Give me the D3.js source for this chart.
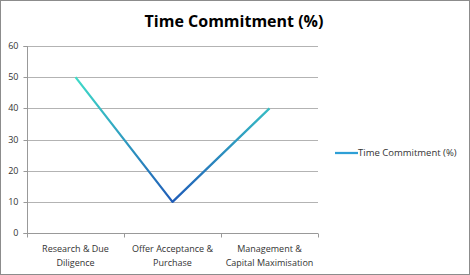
<!DOCTYPE html>
<html>
<head>
<meta charset="utf-8">
<script src="https://cdn.jsdelivr.net/npm/d3@7"></script>
<style>
  body { margin: 0; background: #fff; }
  svg { display: block; font-family: "Open Sans", sans-serif; }
</style>
</head>
<body>
<div id="chart"></div>
<script>
var categories = [['Research & Due', 'Diligence'], ['Offer Acceptance &', 'Purchase'], ['Management &', 'Capital Maximisation']];
var values = [50, 10, 40];
var yTicks = [0, 10, 20, 30, 40, 50, 60];
var seriesName = 'Time Commitment (%)';

var width = 470;
var height = 275;
var plotLeft = 27;
var plotRight = 318;
var plotTop = 46;
var plotBot = 233;

var svg = d3.select('#chart').append('svg')
    .attr('width', width)
    .attr('height', height);

svg.append('rect')
    .attr('x', 0.5).attr('y', 0.5)
    .attr('width', width - 1).attr('height', height - 1)
    .attr('fill', '#fff')
    .attr('stroke', '#8c8c8c');

var x = d3.scaleBand()
    .domain(d3.range(categories.length))
    .range([plotLeft, plotRight]);

var y = d3.scaleLinear()
    .domain([0, 60])
    .range([plotBot, plotTop]);

// gridlines
svg.append('g')
    .selectAll('line')
    .data(yTicks.filter(d => d > 0))
    .join('line')
    .attr('x1', plotLeft).attr('x2', plotRight)
    .attr('y1', d => Math.round(y(d)) + 0.5)
    .attr('y2', d => Math.round(y(d)) + 0.5)
    .attr('stroke', '#b3b3b3');

// y axis
var yAxis = svg.append('g')
    .attr('transform', `translate(${plotLeft + 0.5},0)`)
    .call(d3.axisLeft(y).tickValues(yTicks).tickSize(4).tickPadding(5));
yAxis.select('.domain').attr('stroke', '#999').attr('d', `M-4,${plotTop + 0.5}H0V${plotBot + 0.5}H-4`);
yAxis.selectAll('.tick line').attr('stroke', '#999');
yAxis.selectAll('.tick').attr('transform', d => `translate(0,${Math.round(y(d)) + 0.5})`);
yAxis.selectAll('text')
    .attr('fill', '#333')
    .style('font-size', '9px')
    .style('font-family', '"Open Sans", sans-serif');

// x axis
var xAxis = svg.append('g')
    .attr('transform', `translate(0,${plotBot + 0.5})`);
xAxis.append('line')
    .attr('x1', plotLeft).attr('x2', plotRight)
    .attr('stroke', '#999');
xAxis.selectAll('.tk')
    .data(d3.range(categories.length + 1))
    .join('line')
    .attr('class', 'tk')
    .attr('x1', d => Math.round(plotLeft + d * x.step()) + 0.5)
    .attr('x2', d => Math.round(plotLeft + d * x.step()) + 0.5)
    .attr('y1', 0).attr('y2', 4)
    .attr('stroke', '#999');
xAxis.selectAll('.lbl')
    .data(categories)
    .join('text')
    .attr('class', 'lbl')
    .attr('text-anchor', 'middle')
    .attr('fill', '#333')
    .style('font-size', '9px')
    .attr('transform', (d, i) => `translate(${x(i) + x.bandwidth() / 2},0)`)
    .selectAll('tspan')
    .data(d => d)
    .join('tspan')
    .attr('x', 0)
    .attr('y', (d, i) => 18 + i * 14)
    .text(d => d);

// gradient for the line
var defs = svg.append('defs');
var grad = defs.append('linearGradient')
    .attr('id', 'lineGrad')
    .attr('gradientUnits', 'userSpaceOnUse')
    .attr('x1', 0).attr('x2', 0)
    .attr('y1', y(d3.max(values))).attr('y2', y(d3.min(values)));
grad.append('stop').attr('offset', '0%').attr('stop-color', '#3fdcc8');
grad.append('stop').attr('offset', '100%').attr('stop-color', '#1f5cb8');

var line = d3.line()
    .x((d, i) => x(i) + x.bandwidth() / 2)
    .y(d => y(d));

svg.append('path')
    .datum(values)
    .attr('d', line)
    .attr('fill', 'none')
    .attr('stroke', 'url(#lineGrad)')
    .attr('stroke-width', 2.25)
    .attr('stroke-linejoin', 'round');

// title
svg.append('text')
    .attr('x', 234)
    .attr('y', 27)
    .attr('text-anchor', 'middle')
    .attr('fill', '#000')
    .style('font-size', '16px')
    .style('font-weight', 'bold')
    .text(seriesName);

// legend
var legend = svg.append('g').attr('transform', 'translate(335,153)');
legend.append('line')
    .attr('x1', 0).attr('x2', 23)
    .attr('stroke', '#2e9fd6')
    .attr('stroke-width', 2.25);
legend.append('text')
    .attr('x', 23)
    .attr('y', 3)
    .attr('fill', '#333')
    .style('font-size', '9.5px')
    .text(seriesName);
</script>
</body>
</html>
